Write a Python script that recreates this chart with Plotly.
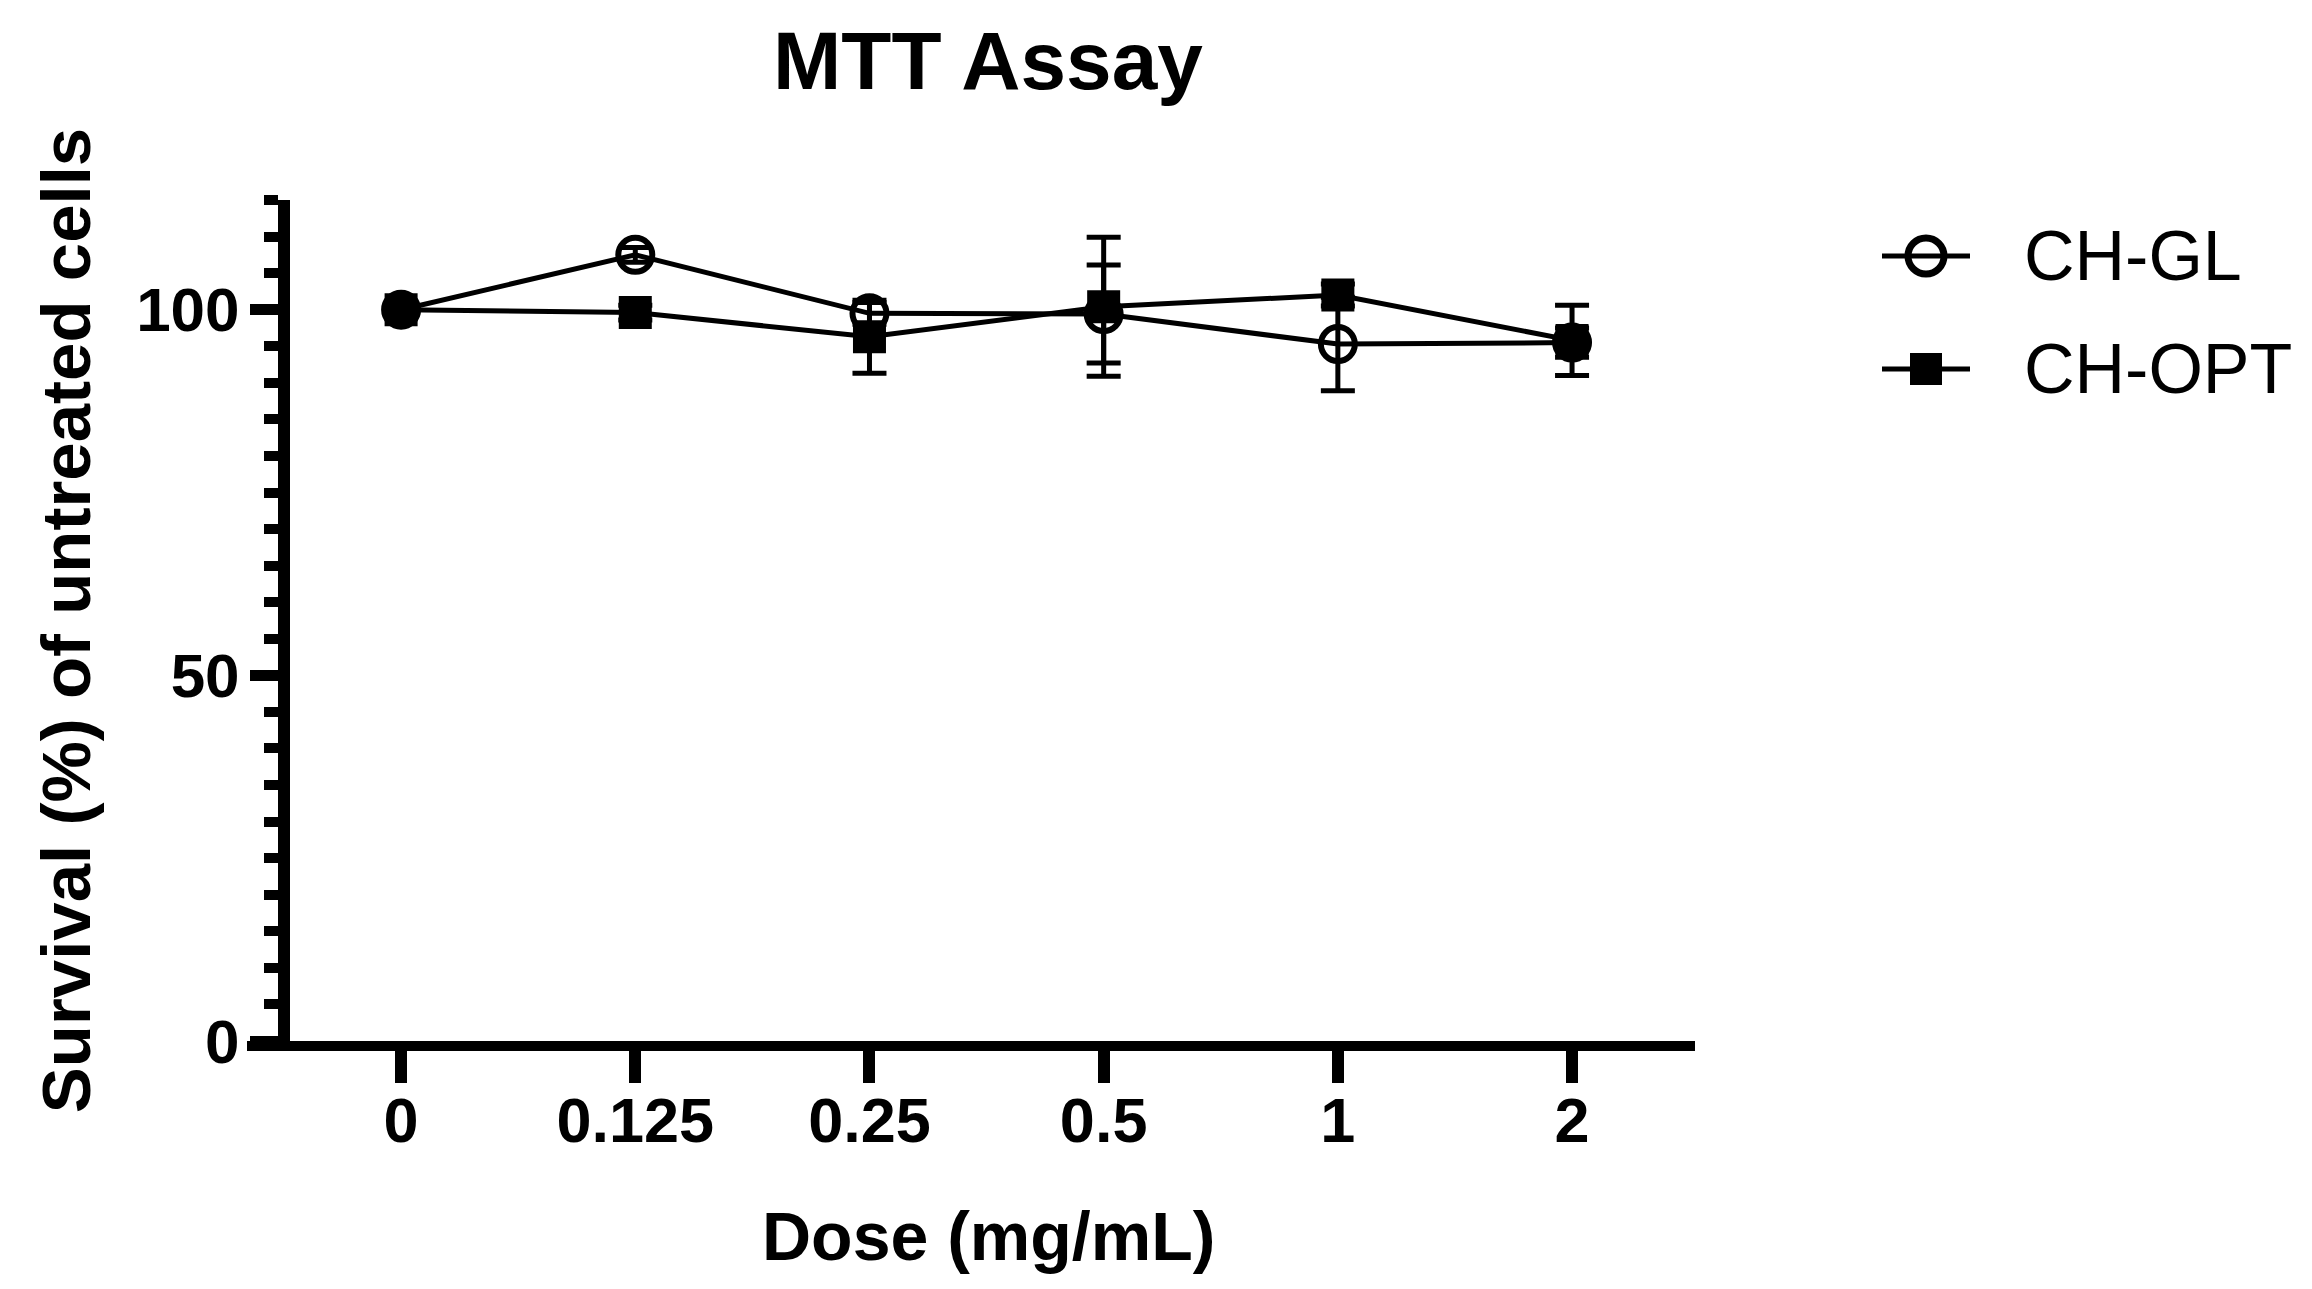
import plotly.graph_objects as go

# ---- data ----
doses = ["0", "0.125", "0.25", "0.5", "1", "2"]
ch_gl = [100.0, 107.5, 99.5, 99.4, 95.3, 95.5]
ch_gl_err = [0.0, 1.0, 1.5, 6.7, 6.4, 2.0]
ch_opt = [100.0, 99.6, 96.3, 100.4, 102.0, 95.8]
ch_opt_err = [0.0, 1.0, 5.0, 9.5, 1.5, 4.8]
series_names = ["CH-GL", "CH-OPT"]
y_ticks = [0, 50, 100]
x_title = "Dose (mg/mL)"
y_title = "Survival (%) of untreated cells"

W, H = 2312, 1289
OFF = 8  # page body margin
L, R, T, B = 247 - OFF, 1695 - OFF, 200 - OFF, 1041 - OFF  # plot area
FONT = "Liberation Sans, Arial, Helvetica, sans-serif"

def px2paper(px, py):
    """screen pixel -> paper coords"""
    px -= OFF
    py -= OFF
    return (px - L) / (R - L), (B - py) / (B - T)

fig = go.Figure()

fig.add_trace(go.Scatter(
    x=doses, y=ch_opt, name=series_names[1], mode="lines+markers",
    line=dict(color="black", width=5),
    marker=dict(symbol="square", size=33, color="black"),
    error_y=dict(type="data", array=ch_opt_err, visible=True,
                 color="black", thickness=5, width=17),
    showlegend=False,
))
fig.add_trace(go.Scatter(
    x=doses, y=ch_gl, name=series_names[0], mode="lines+markers",
    line=dict(color="black", width=5),
    marker=dict(symbol="circle-open", size=34, color="black",
                line=dict(color="black", width=6)),
    error_y=dict(type="data", array=ch_gl_err, visible=True,
                 color="black", thickness=5, width=17),
    showlegend=False,
))

# ---- custom legend (decoration) ----
shapes = []
annotations = []
legend_rows = [(series_names[0], 256, "circle"), (series_names[1], 369, "square")]
for name, py, sym in legend_rows:
    x0, y0 = px2paper(1882, py)
    x1, _ = px2paper(1970, py)
    shapes.append(dict(type="line", xref="paper", yref="paper",
                       x0=x0, x1=x1, y0=y0, y1=y0,
                       line=dict(color="black", width=5)))
    if sym == "circle":
        r = 18
        a0, b0 = px2paper(1926 - r, py + r)
        a1, b1 = px2paper(1926 + r, py - r)
        shapes.append(dict(type="circle", xref="paper", yref="paper",
                           x0=a0, x1=a1, y0=b0, y1=b1,
                           fillcolor="white",
                           line=dict(color="black", width=7)))
        c0, _ = px2paper(1926 - r, py)
        c1, _ = px2paper(1926 + r, py)
        shapes.append(dict(type="line", xref="paper", yref="paper",
                           x0=c0, x1=c1, y0=y0, y1=y0,
                           line=dict(color="black", width=5)))
    else:
        h = 16
        a0, b0 = px2paper(1926 - h, py + h)
        a1, b1 = px2paper(1926 + h, py - h)
        shapes.append(dict(type="rect", xref="paper", yref="paper",
                           x0=a0, x1=a1, y0=b0, y1=b1,
                           fillcolor="black", line=dict(color="black", width=0)))
    tx, ty = px2paper(2022, py)
    annotations.append(dict(text=name, xref="paper", yref="paper",
                            x=tx, y=ty, xanchor="left", yanchor="middle",
                            showarrow=False,
                            font=dict(family=FONT, size=70, color="black")))

# x-axis title as annotation (slightly right of plot-centre in the reference)
xt, yt = px2paper(988, 1236)
annotations.append(dict(text=x_title, xref="paper", yref="paper",
                        x=xt, y=yt, xanchor="center", yanchor="middle",
                        showarrow=False,
                        font=dict(family=FONT, size=68, color="black", weight="bold")))

fig.update_layout(
    width=W, height=H,
    margin=dict(l=L, r=W - R, t=T, b=H - B, pad=0, autoexpand=False),
    paper_bgcolor="white", plot_bgcolor="white",
    title=dict(text="MTT Assay", x=(980 - L) / (R - L), xref="paper", xanchor="center",
               y=1 - 52 / H, yref="container", yanchor="middle",
               font=dict(family=FONT, size=82, color="black", weight="bold")),
    shapes=shapes,
    annotations=annotations,
    showlegend=False,
)

fig.update_xaxes(
    type="category", range=[-0.658, 5.525], automargin=False,
    showline=True, linecolor="black", linewidth=10,
    showgrid=False, zeroline=False,
    ticks="outside", ticklen=32, tickwidth=12, tickcolor="black",
    tickfont=dict(family=FONT, size=63, color="black", weight="bold"),
    ticklabelstandoff=-17,
)

fig.update_yaxes(
    range=[0, 115], anchor="free", position=(284 - OFF - L) / (R - L), automargin=False,
    showline=True, linecolor="black", linewidth=12,
    showgrid=False, zeroline=False,
    tickvals=y_ticks,
    ticks="outside", ticklen=28, tickwidth=11, tickcolor="black",
    minor=dict(dtick=5, ticks="outside", ticklen=14, tickwidth=10,
               tickcolor="black", showgrid=False),
    tickfont=dict(family=FONT, size=62, color="black", weight="bold"),
    ticklabelstandoff=-2,
    title=dict(text=y_title, standoff=22,
               font=dict(family=FONT, size=69, color="black", weight="bold")),
)

fig.write_html("out.html")
